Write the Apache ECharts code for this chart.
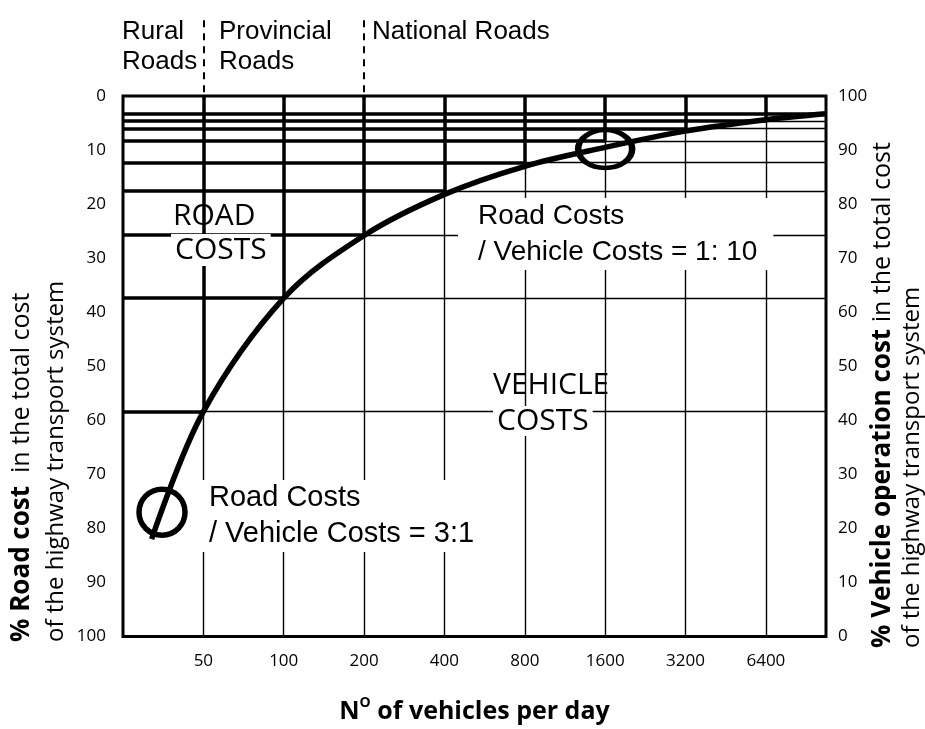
<!DOCTYPE html>
<html><head><meta charset="utf-8">
<script src="https://cdn.jsdelivr.net/npm/echarts@6/dist/echarts.min.js"></script>
<style>html,body{margin:0;padding:0;background:#fff}#c{width:925px;height:729px}</style>
</head><body><div id="c"></div>
<script>
// ---- data ----
const vehicleTicks = [50, 100, 200, 400, 800, 1600, 3200, 6400];
const xMinVehicles = 25;
const xMaxVehicles = 10750;
const roadPctTicks = [0, 10, 20, 30, 40, 50, 60, 70, 80, 90, 100];
const curveVehicles = [32, 50, 100, 200, 400, 800, 1600, 3200, 6400, 10750];
const curveRoadPct  = [82, 58.4, 37.4, 25.8, 18.2, 13.0, 9.5, 6.5, 4.4, 3.3];
const stepVehicles = [50, 100, 200, 400, 800, 1600, 3200, 6400];
const stepRoadPct  = [58.4, 37.4, 25.7, 17.6, 12.3, 8.3, 6.0, 4.6];
const topLineRoadPct = 3.2;
const roadClassBounds = [50, 200];
const roadClassDashRoadPct = [-14, -0.6];
const circledVehicles = [35, 1600];
const circledRoadPct = [77, 9.8];
const circleSizes = [[46, 46], [54, 38]];

// ---- helpers ----
const lx = v => Math.log2(v / xMinVehicles);
const xMax = lx(xMaxVehicles);

const thick = [], thin = [];
stepVehicles.forEach((v, i) => {
  const x = lx(v), y = stepRoadPct[i];
  thick.push({coords: [[0, y], [x, y]]});
  thin.push({coords: [[x, y], [xMax, y]]});
  thick.push({coords: [[x, 0], [x, y]]});
  thin.push({coords: [[x, y], [x, 100]]});
});
thick.push({coords: [[0, topLineRoadPct], [xMax, topLineRoadPct]]});

const dashes = roadClassBounds.map(b => ({coords: [[lx(b), roadClassDashRoadPct[0]], [lx(b), roadClassDashRoadPct[1]]]}));

const chart = echarts.init(document.getElementById('c'));
const FS = "'Open Sans', 'Noto Sans', sans-serif";
const AR = "'Liberation Sans', Arial, sans-serif";

chart.setOption({
  animation: false,
  backgroundColor: '#fff',
  grid: {left: 123, right: 99, top: 96, bottom: 83, show: true, borderColor: '#000', borderWidth: 3, backgroundColor: 'transparent'},
  xAxis: {
    type: 'value', min: 0, max: xMax, interval: 1,
    axisLine: {show: false}, axisTick: {show: false}, splitLine: {show: false},
    axisLabel: {
      margin: 16, color: '#000', fontFamily: FS, fontSize: 17,
      formatter: v => { const t = vehicleTicks.find(t => Math.abs(lx(t) - v) < 1e-6); return t ? String(t) : ''; }
    },
    name: '{n|N}{s|O}{n| of vehicles per day}',
    nameLocation: 'middle', nameGap: 60,
    nameTextStyle: {
      rich: {
        n: {fontFamily: FS, fontWeight: 'bold', fontSize: 25, color: '#000', lineHeight: 30},
        s: {fontFamily: FS, fontWeight: 'bold', fontSize: 14, color: '#000', verticalAlign: 'top', lineHeight: 30}
      }
    }
  },
  yAxis: [
    {type: 'value', min: 0, max: 100, interval: 10, inverse: true, position: 'left',
     axisLine: {show: false}, axisTick: {show: false}, splitLine: {show: false},
     axisLabel: {margin: 17, color: '#000', fontFamily: FS, fontSize: 17}},
    {type: 'value', min: 0, max: 100, interval: 10, position: 'right',
     axisLine: {show: false}, axisTick: {show: false}, splitLine: {show: false},
     axisLabel: {margin: 12, color: '#000', fontFamily: FS, fontSize: 17}}
  ],
  series: [
    {type: 'lines', coordinateSystem: 'cartesian2d', silent: true, data: thin,
     lineStyle: {color: '#000', width: 1.4, opacity: 1}},
    {type: 'lines', coordinateSystem: 'cartesian2d', silent: true, data: thick,
     lineStyle: {color: '#000', width: 3.5, opacity: 1}},
    {type: 'lines', coordinateSystem: 'cartesian2d', silent: true, clip: false, data: dashes,
     lineStyle: {color: '#000', width: 2, type: [7, 6], opacity: 1}},
    {type: 'line', data: curveVehicles.map((v, i) => [lx(v), curveRoadPct[i]]),
     smooth: 0.35, showSymbol: false, silent: true,
     lineStyle: {color: '#000', width: 5.5}},
    {type: 'scatter', silent: true,
     data: circledVehicles.map((v, i) => ({value: [lx(v), circledRoadPct[i]], symbolSize: circleSizes[i]})),
     symbol: 'circle',
     itemStyle: {color: 'rgba(0,0,0,0)', borderColor: '#000', borderWidth: 5.5, opacity: 1}}
  ],
  graphic: [
    {type: 'text', x: 122, y: 17, z: 100, style: {text: 'Rural\nRoads', font: '26px ' + AR, fill: '#000', lineHeight: 30}},
    {type: 'text', x: 219, y: 17, z: 100, style: {text: 'Provincial\nRoads', font: '26px ' + AR, fill: '#000', lineHeight: 30}},
    {type: 'text', x: 372, y: 17, z: 100, style: {text: 'National Roads', font: '26px ' + AR, fill: '#000', lineHeight: 30}},

    {type: 'text', x: 173, y: 216, z: 100, style: {text: 'ROAD', font: '30px ' + FS, fill: '#000', textVerticalAlign: 'middle'}},
    {type: 'text', x: 171, y: 250, z: 100, style: {text: 'COSTS', font: '30px ' + FS, fill: '#000', textVerticalAlign: 'middle', backgroundColor: '#fff', padding: [1, 4, 1, 4]}},

    {type: 'text', x: 458, y: 198, z: 100, style: {text: 'Road Costs\n/ Vehicle Costs = 1: 10', font: '28px ' + AR, fill: '#000', lineHeight: 36, backgroundColor: '#fff', padding: [0, 16, 0, 20]}},

    {type: 'text', x: 493, y: 385, z: 100, style: {text: 'VEHICLE', font: '30px ' + FS, fill: '#000', textVerticalAlign: 'middle'}},
    {type: 'text', x: 493, y: 421, z: 100, style: {text: 'COSTS', font: '30px ' + FS, fill: '#000', textVerticalAlign: 'middle', backgroundColor: '#fff', padding: [0, 4, 0, 4]}},

    {type: 'text', x: 202, y: 480, z: 100, style: {text: 'Road Costs\n/ Vehicle Costs = 3:1', font: '29px ' + AR, fill: '#000', lineHeight: 36, backgroundColor: '#fff', padding: [0, 6, 0, 7]}},

    {type: 'text', x: 22, y: 642, rotation: Math.PI / 2, z: 100, style: {
      text: '{b|% Road cost}{r|  in the total cost}', textAlign: 'left', textVerticalAlign: 'middle', fill: '#000',
      font: '25px ' + FS,
      rich: {b: {fontFamily: FS, fontSize: 26, fontWeight: 'bold', fill: '#000'},
             r: {fontFamily: FS, fontSize: 25, fill: '#000'}}}},
    {type: 'text', x: 56, y: 642, rotation: Math.PI / 2, z: 100, style: {
      text: 'of the highway transport system', textAlign: 'left', textVerticalAlign: 'middle', fill: '#000', font: '24px ' + FS}},
    {type: 'text', x: 883, y: 648, rotation: Math.PI / 2, z: 100, style: {
      text: '{b|% Vehicle operation cost}{r| in the total cost}', textAlign: 'left', textVerticalAlign: 'middle', fill: '#000',
      font: '25px ' + FS,
      rich: {b: {fontFamily: FS, fontSize: 26, fontWeight: 'bold', fill: '#000'},
             r: {fontFamily: FS, fontSize: 25, fill: '#000'}}}},
    {type: 'text', x: 912, y: 648, rotation: Math.PI / 2, z: 100, style: {
      text: 'of the highway transport system', textAlign: 'left', textVerticalAlign: 'middle', fill: '#000', font: '24px ' + FS}}
  ]
});
</script></body></html>
